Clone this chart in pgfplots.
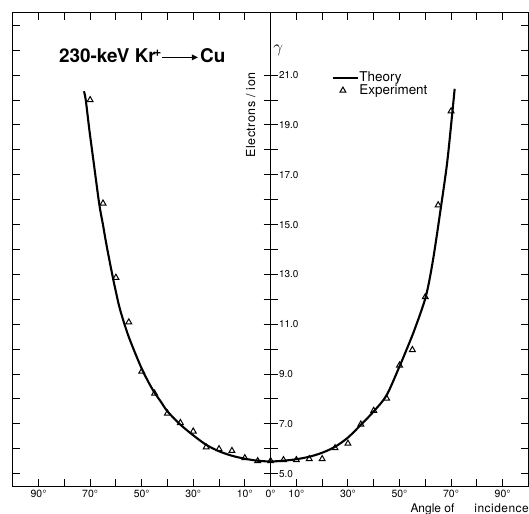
\documentclass[border=0pt]{standalone}
\usepackage{pgfplots}
\pgfplotsset{compat=1.18}
\usepackage{pgfplotstable}
\usetikzlibrary{arrows.meta}
\usepackage{fontspec}
\setmainfont{TeX Gyre Heros}

\pgfplotsset{
  theoryleg/.style={legend image code/.code={\draw[##1] (0bp,0bp) -- (25bp,0bp);}},
  expleg/.style={legend image code/.code={\draw[##1] plot coordinates {(10bp,0bp)};}},
}

% theory curve
\pgfplotstableread{
x y
-72.4 20.35
-71.7 20.0
-70.3 18.8
-68.8 17.63
-66.5 15.85
-65.0 14.98
-63.6 14.15
-61.3 12.93
-60.0 12.3
-58.4 11.59
-55.4 10.6
-51.9 9.68
-49.1 9.02
-45.5 8.33
-42.5 7.88
-40 7.50
-35 6.97
-30 6.54
-25 6.16
-20 5.90
-15 5.72
-10 5.60
-5 5.52
0 5.49
5 5.52
10 5.58
15 5.68
20 5.84
25 6.08
30 6.45
35 6.96
40 7.50
45 8.15
50.1 9.33
52.7 9.97
55.9 10.8
60.2 12.11
63 13.58
66.2 15.79
68.5 17.5
70.5 19.5
71.4 20.45
}\theory

% measured points
\pgfplotstableread{
x y
-70 20.0
-65 15.85
-60 12.87
-55 11.08
-50 9.10
-45 8.22
-40 7.42
-35 7.04
-30 6.70
-25 6.06
-20 5.99
-15 5.92
-10 5.63
-5 5.51
0 5.51
5 5.55
10 5.55
15 5.59
20 5.59
25 6.03
30 6.21
35 6.98
40 7.53
45 8.02
50 9.35
55 9.97
60 12.09
65 15.78
70 19.55
}\experiment

\begin{document}
\begin{tikzpicture}
% frame with inward ticks
\begin{axis}[
  scale only axis, width=516bp, height=473.7bp,
  xmin=-100, xmax=100, ymin=4.5, ymax=23.5,
  axis line style={line width=1.1bp},
  tick style={black, line width=0.9bp},
  tick align=inside, major tick length=7bp,
  xtick={-90,-80,...,90},
  xticklabels={90°,,70°,,50°,,30°,,10°,0°,10°,,30°,,50°,,70°,,90°},
  x tick label style={font=\fontsize{10.5}{11}\selectfont},
  ytick={5,...,23}, yticklabels={},
]
\end{axis}
% centre axis with data
\begin{axis}[
  scale only axis, width=516bp, height=473.7bp,
  xmin=-100, xmax=100, ymin=4.5, ymax=23.5,
  axis x line=none, axis y line=center,
  axis line style={-, line width=1.3bp},
  tick style={black, line width=0.9bp},
  ytick={5,...,21},
  yticklabels={5.0,,7.0,,9.0,,11.0,,13.0,,15.0,,17.0,,19.0,,21.0},
  yticklabel pos=right,
  tick align=center, major tick length=14bp,
  y tick label style={anchor=west, xshift=12bp, font=\fontsize{10}{11}\selectfont},
  clip=false,
  legend cell align=left,
  legend style={at={(axis cs:23.7,21.15)}, anchor=north west, draw=none, fill=none,
    inner sep=0pt, row sep=0.5bp, font=\fontsize{13.5}{14}\selectfont,
    nodes={inner sep=0.5bp}},
]
\addplot[black, line width=2.1bp, smooth, theoryleg] table {\theory};
\addlegendentry{Theory}
\addplot[only marks, mark=triangle, mark size=3.4bp,
  mark options={fill=white, line width=1bp, black}, expleg] table {\experiment};
\addlegendentry{Experiment}

\node[anchor=base west, inner sep=0pt, font=\fontsize{19}{20}\selectfont\bfseries] (t1)
  at (axis cs:-82.1,21.51) {230-keV Kr\kern-0.12em\textsuperscript{+}};
\draw[line width=1.4bp, -{Triangle[length=6bp,width=5.5bp]}]
  ([yshift=5bp]t1.base east) -- ++(36bp,0bp);
\node[anchor=base west, inner sep=0pt, font=\fontsize{19}{20}\selectfont\bfseries]
  at ([xshift=38bp]t1.base east) {Cu};
\node[font=\fontsize{17}{17}\selectfont] at (axis cs:3.0,22.0) {$\gamma$};
\node[rotate=90, font=\fontsize{12.5}{13}\selectfont\addfontfeature{LetterSpace=4}]
  at (axis cs:-7.67,19.4) {Electrons / ion};
\node[anchor=base west, inner sep=0pt, font=\fontsize{12}{12}\selectfont]
  at (axis cs:54.2,3.45) {Angle of};
\node[anchor=base west, inner sep=0pt, font=\fontsize{12}{12}\selectfont\addfontfeature{LetterSpace=4}]
  at (axis cs:79.0,3.45) {incidence};
\end{axis}
\pgfresetboundingbox
\path[use as bounding box] ([shift={(-12.8bp,-27.5bp)}]current axis.south west)
  rectangle ([shift={(0.6bp,12.8bp)}]current axis.north east);
\end{tikzpicture}
\end{document}
